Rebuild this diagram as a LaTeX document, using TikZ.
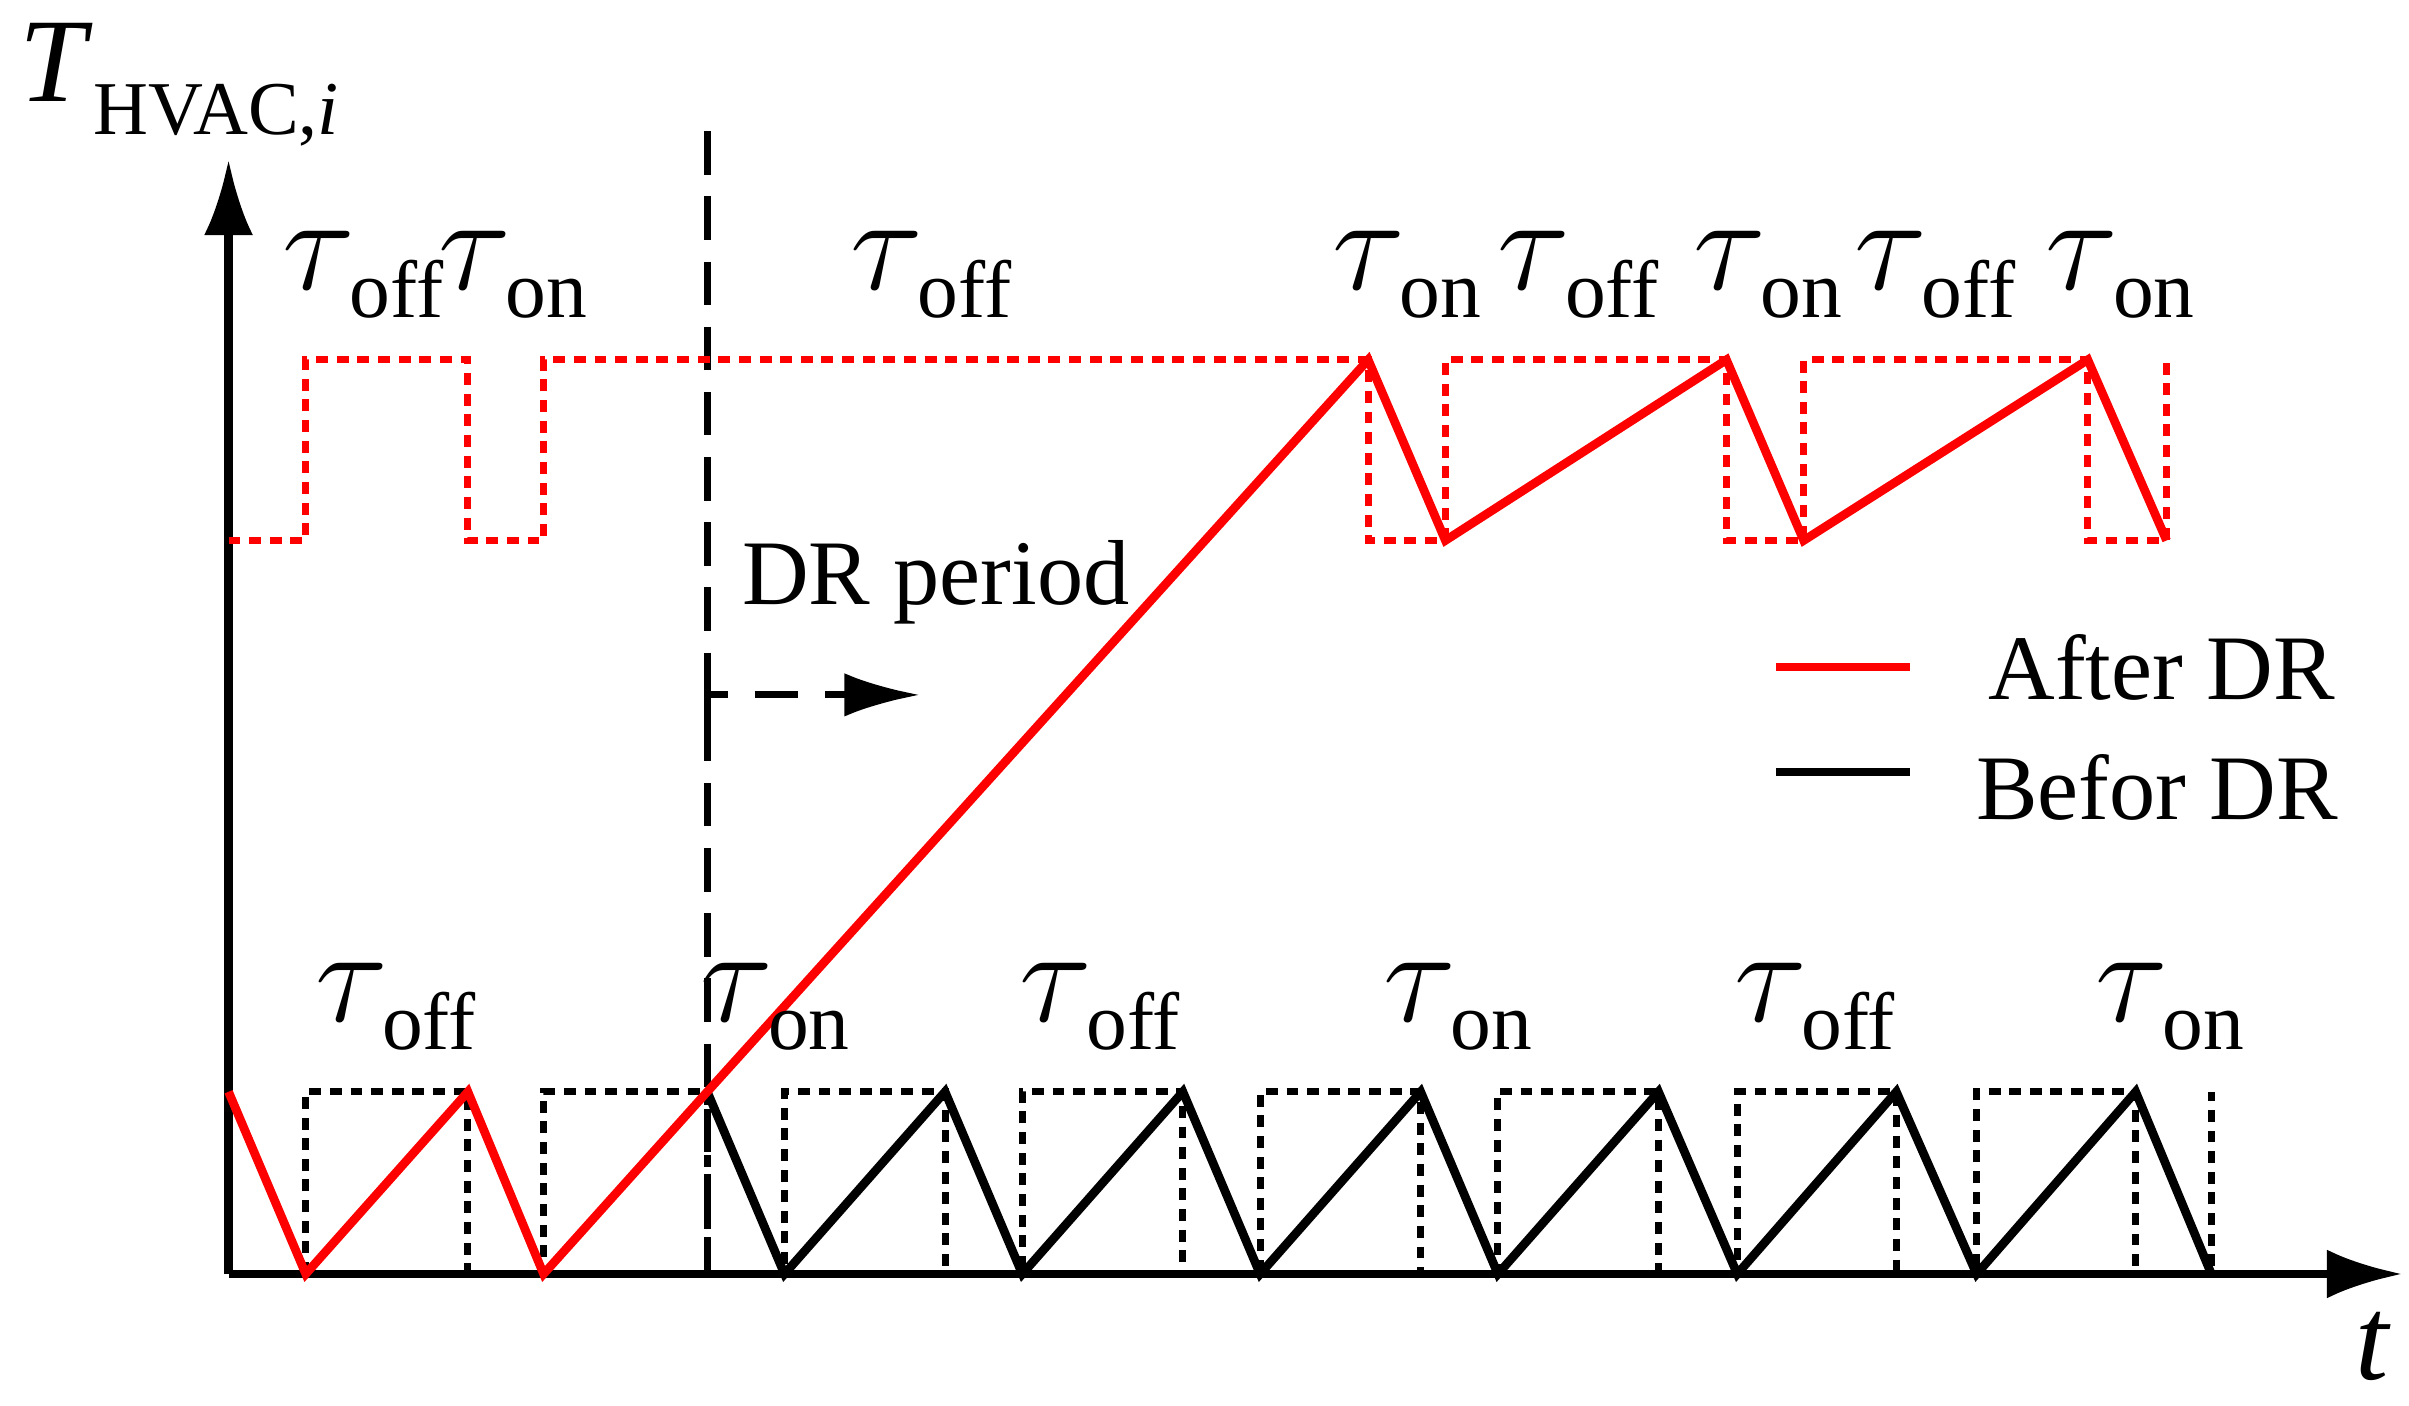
\documentclass[tikz,border=0pt]{standalone}
\usepackage{fontspec}
\setmainfont{Liberation Serif}
\usetikzlibrary{arrows.meta}
\newcommand{\mytau}[1]{{\fontsize{27}{27}\selectfont$\tau$}\kern-1pt\raisebox{-5pt}{\fontsize{15}{15}\selectfont #1}}
\begin{document}
\begin{tikzpicture}[x=0.01cm,y=-0.01cm,
  sq/.style={line width=1.3pt,dash pattern=on 2.2pt off 1.6pt},
  saw/.style={line width=1.6pt,line join=miter},
  tl/.style={inner sep=0pt},
  lab/.style={font=\fontsize{17}{17}\selectfont,inner sep=0pt}]
\useasboundingbox (0,0) rectangle (1560,910);
% axes
\draw[line width=1.6pt,-{Latex[length=14pt,width=9pt]}] (148,825) -- (148,103);
\draw[line width=1.6pt,-{Latex[length=14pt,width=9pt]}] (148,825) -- (1556,825);
\node[tl,anchor=west] at (12,55) {{\fontsize{22}{22}\selectfont\textit{T}}\raisebox{-6pt}{\fontsize{14}{14}\selectfont HVAC,\textit{i}}};
\node[tl] at (1537,872) {\fontsize{22}{22}\selectfont\textit{t}};
% DR line and arrow
\draw[line width=1.3pt,dash pattern=on 8pt off 4pt] (458,85) -- (458,825);
\draw[line width=1.3pt,dash pattern=on 8pt off 5pt,-{Latex[length=14pt,width=8pt]}] (458,465) -- (458,450) -- (596,450);
\node[lab] at (606,377) {DR period};
% black dotted square wave
\draw[sq] (198,825) -- (198,707) -- (303,707) -- (303,825) -- (352,825) -- (352,707) -- (458,707) -- (458,825) -- (508,825)
 -- (508,707) -- (612,707) -- (612,825) -- (662,825) -- (662,707) -- (766,707) -- (766,825) -- (816,825)
 -- (816,707) -- (920,707) -- (920,825) -- (970,825) -- (970,707) -- (1074,707) -- (1074,825) -- (1125,825)
 -- (1125,707) -- (1228,707) -- (1228,825) -- (1280,825) -- (1280,707) -- (1383,707) -- (1383,825) -- (1432,825) -- (1432,707);
% red dotted square wave
\draw[sq,red] (148,350) -- (198,350) -- (198,233) -- (303,233) -- (303,350) -- (352,350) -- (352,233) -- (886,233)
 -- (886,350) -- (936,350) -- (936,233) -- (1118,233) -- (1118,350) -- (1168,350) -- (1168,233) -- (1352,233)
 -- (1352,350) -- (1403,350) -- (1403,233);
% black sawtooth
\draw[saw] (458,707) -- (508,825) -- (612,707) -- (662,825) -- (766,707) -- (816,825) -- (920,707) -- (970,825)
 -- (1074,707) -- (1125,825) -- (1228,707) -- (1280,825) -- (1383,707) -- (1432,825);
% red
\draw[saw,red] (148,707) -- (198,825) -- (303,707) -- (352,825) -- (458,707) -- (886,233) -- (936,350) -- (1118,233)
 -- (1168,350) -- (1352,233) -- (1403,350);
% legend
\draw[saw,red] (1150,432) -- (1237,432);
\draw[saw] (1150,500) -- (1237,500);
\node[lab,anchor=west] at (1287,432) {After DR};
\node[lab,anchor=west] at (1279,510) {Befor DR};
% taus
\foreach \x/\s in {235/off,332/on,603/off,911/on,1022/off,1145/on,1253/off,1373/on}
  \node[tl] at (\x,178) {\mytau{\s}};
\foreach \x/\s in {256/off,502/on,712/off,944/on,1175/off,1405/on}
  \node[tl] at (\x,652) {\mytau{\s}};
\end{tikzpicture}
\end{document}
